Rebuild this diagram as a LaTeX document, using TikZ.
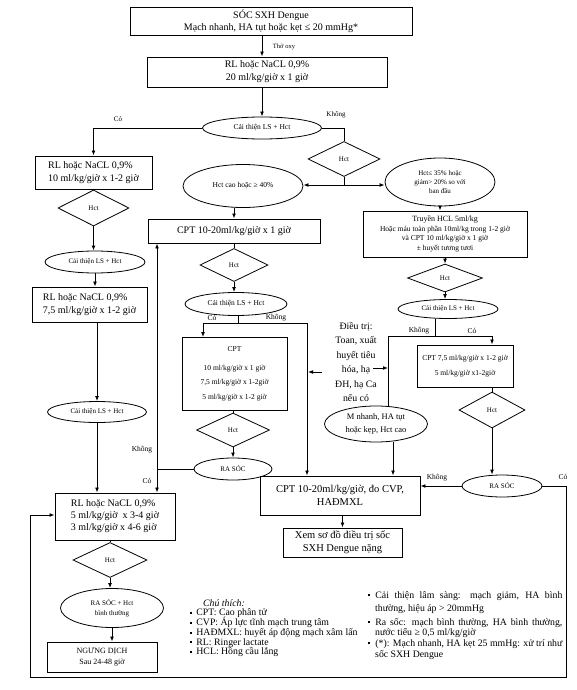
\documentclass[tikz,border=0pt]{standalone}
\usepackage{fontspec}
\setmainfont{Liberation Serif}
\usetikzlibrary{shapes.geometric,arrows.meta,calc}
\newcommand\fsz[2]{\fontsize{#1pt}{#2pt}\selectfont}
\newcommand\sqb{\rule[1.8pt]{2.2pt}{2.2pt}}
\begin{document}
\begin{tikzpicture}[x=1pt,y=-1pt,
  box/.style={draw, line width=0.9pt, inner sep=1pt, align=center},
  ell/.style={draw, ellipse, line width=0.8pt, inner sep=0pt, align=center},
  dia/.style={draw, diamond, line width=0.8pt, inner sep=0pt, font={\fsz{7}{8}}},
  lab/.style={inner sep=0pt, font={\fsz{7}{8}}},
  leg/.style={inner sep=0pt, anchor=base west, font={\fsz{9.8}{10}}},
  arr/.style={-{Latex[length=5pt,width=3.8pt]}, line width=0.8pt},
  ln/.style={line width=0.8pt}]
\path[fill=white, use as bounding box] (0,0) rectangle (576,690);

% ---------- top ----------
\node[box, minimum width=282, minimum height=28, font={\fsz{10}{12}}] (n1) at (271,21) {SÓC SXH Dengue\\Mạch nhanh, HA tụt hoặc kẹt ≤ 20 mmHg*};
\node[box, minimum width=240, minimum height=30, font={\fsz{10}{13}}] (n2) at (267,72) {RL hoặc NaCL 0,9\%\\20 ml/kg/giờ x 1 giờ};
\node[ell, minimum width=119, minimum height=22, font={\fsz{7.5}{9}}] (e1) at (262,128) {Cải thiện LS + Hct};
\draw[arr] (n1.south -| e1.north) -- (n2.north -| e1.north);
\node[lab, font={\fsz{6.5}{8}}] (lt) at (284,47) {Thở oxy};
\draw[arr] (n2.south -| e1.north) -- (e1.north);

% ---------- left column ----------
\node[box, minimum width=117, minimum height=33, align=left, font={\fsz{10}{12.5}}] (b3) at (93.5,172.5) {RL hoặc NaCL 0,9\%\\10 ml/kg/giờ x 1-2 giờ};
\draw[arr] (e1.west) -| (b3.north);
\node[lab] (lco1) at (118,119) {Có};
\node[dia, minimum width=71, minimum height=36] (d4) at (93.5,208) {Hct};
\draw[ln] (b3.south) -- (d4.north);
\node[ell, minimum width=100, minimum height=22, font={\fsz{7}{8}}] (e6) at (95,262) {Cải thiện LS + Hct};
\draw[arr] (d4.south) -- (d4.south |- e6.north);
\node[box, minimum width=115, minimum height=35, align=left, font={\fsz{10}{12.5}}] (b6) at (89.5,304.5) {RL hoặc NaCL 0,9\%\\7,5 ml/kg/giờ x 1-2 giờ};
\draw[arr] (e6.south) -- (e6.south |- b6.north);
\node[ell, minimum width=99, minimum height=21, font={\fsz{7}{8}}] (e7) at (97,412) {Cải thiện LS + Hct};
\draw[arr] (b6.south -| e7.north) -- (e7.north);
\node[box, minimum width=120, minimum height=47, align=left, font={\fsz{10}{12}}] (b8) at (115,516.5) {RL hoặc NaCL 0,9\%\\5 ml/kg/giờ\ \ x 3-4 giờ\\3 ml/kg/giờ x 4-6 giờ};
\draw[arr] (e7.south) -- (e7.south |- b8.north);
\node[dia, minimum width=74, minimum height=35] (d5) at (110,560) {Hct};
\draw[ln] (b8.south -| d5.north) -- (d5.north);
\node[ell, minimum width=103, minimum height=39, font={\fsz{7}{10}}] (e8) at (112,608) {RA SÓC + Hct\\bình thường};
\draw[arr] (d5.south) -- (d5.south |- e8.north);
\node[box, minimum width=110, minimum height=30, font={\fsz{8}{11}}] (b9) at (102,657) {NGƯNG DỊCH\\Sau 24-48 giờ};
\draw[arr] (e8.south) -- (e8.south |- b9.north);

% ---------- Hct split ----------
\node[dia, minimum width=72, minimum height=35] (d1) at (344,159) {Hct};
\draw[ln] (e1.east) -| (d1.north);
\node[lab] (lkh1) at (336,115) {Không};
\node[ell, minimum width=120, minimum height=43, font={\fsz{7.5}{9}}] (e2) at (243,186) {Hct cao hoặc ≥ 40\%};
\node[ell, minimum width=110, minimum height=48, font={\fsz{7}{9}}] (e3) at (440,182) {Hct≤ 35\% hoặc\\giảm> 20\% so với\\ban đầu};
\coordinate (j1) at (344,185);
\draw[ln] (d1.south) -- (j1);
\draw[arr] (j1) -- (j1 -| e2.east);
\draw[arr] (j1) -- (j1 -| e3.west);

% ---------- middle column ----------
\node[box, minimum width=172, minimum height=24, font={\fsz{10}{12}}] (b4) at (234,231) {CPT 10-20ml/kg/giờ x 1 giờ};
\draw[arr] (e2.south -| b4.north) -- (b4.north);
\node[dia, minimum width=68, minimum height=33] (d2) at (234,265) {Hct};
\draw[ln] (b4.south) -- (d2.north);
\node[ell, minimum width=102, minimum height=23, font={\fsz{7.5}{9}}] (e4) at (236,304) {Cải thiện LS + Hct};
\draw[arr] (d2.south) -- (d2.south |- e4.north);
\coordinate (j2) at (238,323);
\coordinate (j2l) at (203,323);
\coordinate (j2r) at (307,323);
\draw[ln] (e4.south -| j2) -- (j2);
\draw[ln] (j2l) -- (j2r);
\node[lab, font={\fsz{7.5}{9}}] (lco2) at (212,318) {Có};
\node[lab, font={\fsz{7.5}{9}}] (lkh2) at (276,318) {Không};
\node[box, minimum width=105, minimum height=73, font={\fsz{7.5}{14.5}}] (b5) at (234.5,374) {CPT\\[4pt]10 ml/kg/giờ x 1 giờ\\7,5 ml/kg/giờ x 1-2giờ\\5 ml/kg/giờ x 1-2 giờ};
\draw[arr] (j2l) -- (j2l |- b5.north);
\node[dia, minimum width=73, minimum height=34] (d3) at (233,430) {Hct};
\draw[ln] (b5.south -| d3.north) -- (d3.north);
\node[ell, minimum width=78, minimum height=22, font={\fsz{7}{8}}] (e5) at (233,469) {RA SÓC};
\draw[arr] (d3.south) -- (e5.north);
\coordinate (j3) at (157,469);
\draw[ln] (e5.west) -- (j3);
\draw[arr] (j3) -- (j3 |- b4.south);
\draw[arr] (j3) -- (j3 |- b8.north);
\node[lab, font={\fsz{7.5}{9}}] (lkh3) at (142,450) {Không};
\node[lab, font={\fsz{7.5}{9}}] (lco3) at (147,481) {Có};

% ---------- right column ----------
\node[box, minimum width=164, minimum height=46, font={\fsz{7.5}{9.6}}] (b10) at (445,234) {{\fsz{8}{9.6}Truyền HCL 5ml/kg}\\Hoặc máu toàn phần 10ml/kg trong 1-2 giờ\\và CPT 10 ml/kg/giờ x 1 giờ\\± huyết tương tươi};
\draw[arr] (e3.south) -- (e3.south |- b10.north);
\node[dia, minimum width=75, minimum height=28] (d6) at (445,278) {Hct};
\draw[arr] (b10.south) -- (d6.north);
\node[ell, minimum width=100, minimum height=19, font={\fsz{7}{8}}] (e9) at (448,309) {Cải thiện LS + Hct};
\draw[arr] (d6.south) -- (d6.south |- e9.north);
\coordinate (j4) at (435,336);
\coordinate (j4l) at (388,336);
\coordinate (j4r) at (492,336);
\draw[ln] (e9.south -| j4) -- (j4);
\draw[ln] (j4l) -- (j4r);
\node[lab, font={\fsz{7.5}{9}}] (lkh4) at (419,331) {Không};
\node[lab, font={\fsz{7.5}{9}}] (lco4) at (472,331) {Có};
\node[box, minimum width=96, minimum height=42, font={\fsz{7.5}{12}}] (b11) at (465,366) {CPT 7,5 ml/kg/giờ x 1-2 giờ\\[3pt]5 ml/kg/giờ x1-2giờ};
\draw[arr] (j4r) -- (j4r |- b11.north);
\node[dia, minimum width=66, minimum height=36] (d7) at (492,410) {Hct};
\draw[ln] (b11.south -| d7.north) -- (d7.north);
\node[ell, minimum width=80, minimum height=22, font={\fsz{7}{8}}] (e10) at (502,486) {RA SÓC};
\draw[arr] (d7.south) -- (d7.south |- e10.north);
\node[ell, minimum width=103, minimum height=36, font={\fsz{8.5}{13.5}}] (e11) at (376,424) {M nhanh, HA tụt\\hoặc kẹp, Hct cao};
\draw[ln] (j4l) -- ([xshift=12pt,yshift=-0.5pt]e11.north);

% ---------- Dieu tri ----------
\node[inner sep=0pt, align=center, font={\fsz{9.8}{14.5}}] (t1) at (356,362) {Điều trị:\\Toan, xuất\\huyết tiêu\\hóa, hạ\\ĐH, hạ Ca\\nếu có};
\coordinate (al1) at (322,372);
\coordinate (vl1) at (308,372);
\coordinate (ar1) at (373,368);
\coordinate (vr1) at (388,368);
\draw[arr] (al1) -- (vl1);
\draw[arr] (ar1) -- (vr1);

% ---------- bottom boxes ----------
\node[box, minimum width=160, minimum height=39, font={\fsz{10.5}{13}}] (b7) at (340,495.5) {CPT 10-20ml/kg/giờ, đo CVP,\\HAĐMXL};
\draw[arr] (j2r) -- (j2r |- b7.north);
\draw[arr] ([xshift=17pt]e11.south) -- ([xshift=17pt]e11.south |- b7.north);
\draw[arr] (e10.west) -- (e10.west -| b7.east);
\node[lab, font={\fsz{7.5}{9}}] (lkh5) at (437,478) {Không};
\node[box, minimum width=119, minimum height=29, font={\fsz{10.5}{13}}] (b12) at (342.5,542.5) {Xem sơ đồ điều trị sốc\\SXH Dengue nặng};
\draw[arr] (b7.south -| b12.north) -- (b12.north);

% ---------- loop ----------
\coordinate (c1) at (566,486);
\coordinate (c2) at (566,677);
\coordinate (c3) at (30,677);
\coordinate (c4) at (30,515);
\draw[arr] (e10.east) -- (c1) -- (c2) -- (c3) -- (c4) -- (c4 -| b8.west);
\node[lab, font={\fsz{7.5}{9}}] (lco5) at (563,477) {Có};

% ---------- legend ----------
\node[leg, font={\fsz{9.8}{10}\itshape}] (lg0) at (203,606) {Chú thích:};
\node[leg] (lg1) at (190,615.5) {\sqb\hspace{4pt}CPT: Cao phân tử};
\node[leg] (lg2) at (190,625.5) {\sqb\hspace{4pt}CVP: Áp lực tĩnh mạch trung tâm};
\node[leg] (lg3) at (190,635.5) {\sqb\hspace{4pt}HAĐMXL: huyết áp động mạch xâm lấn};
\node[leg] (lg4) at (190,645) {\sqb\hspace{4pt}RL: Ringer lactate};
\node[leg] (lg5) at (190,654.5) {\sqb\hspace{4pt}HCL: Hồng cầu lắng};

\node[leg] (rg1) at (368,598) {\sqb\hspace{5pt}\makebox[187pt][s]{Cải thiện lâm sàng: mạch giảm, HA bình}};
\node[leg] (rg2) at (375,611) {thường, hiệu áp > 20mmHg};
\node[leg] (rg3) at (368,625) {\sqb\hspace{5pt}\makebox[187pt][s]{Ra sốc: mạch bình thường, HA bình thường,}};
\node[leg] (rg4) at (375,635.5) {nước tiểu ≥ 0,5 ml/kg/giờ};
\node[leg] (rg5) at (368,646) {\sqb\hspace{5pt}\makebox[187pt][s]{(*): Mạch nhanh, HA kẹt 25 mmHg: xử trí như}};
\node[leg] (rg6) at (375,657) {sốc SXH Dengue};
\end{tikzpicture}
\end{document}
